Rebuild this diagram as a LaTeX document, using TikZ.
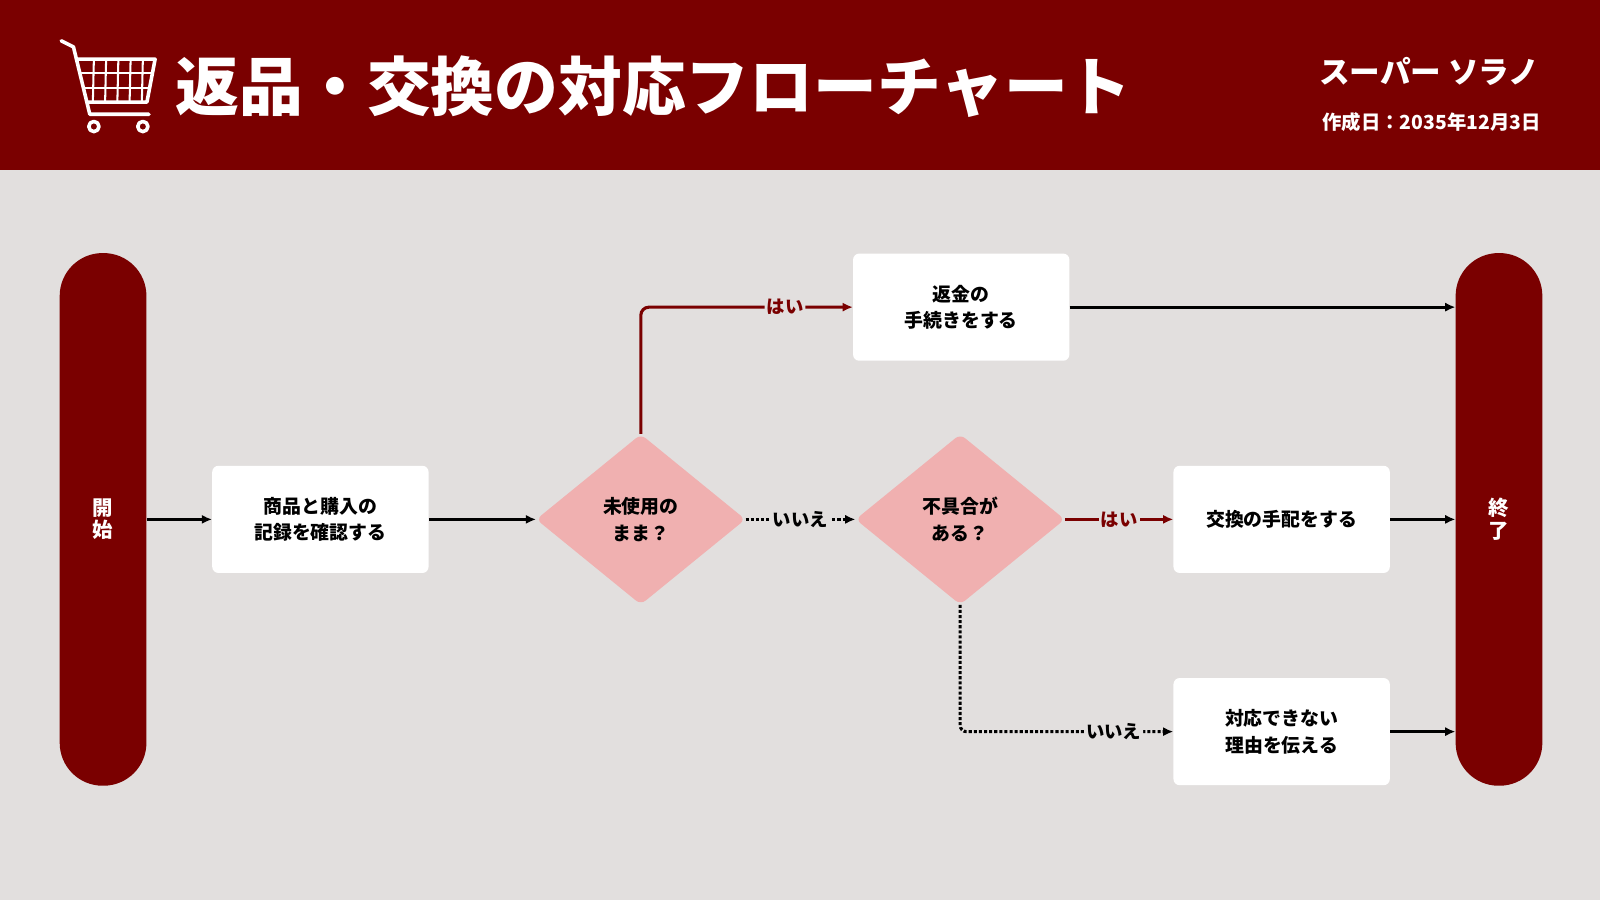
\documentclass[tikz,border=0pt]{standalone}
\usepackage{fontspec}
\setmainfont{Noto Sans CJK JP}
\usetikzlibrary{arrows.meta,shapes.geometric}
\definecolor{dred}{HTML}{7A0000}
\definecolor{bgc}{HTML}{E2DFDE}
\definecolor{pink}{HTML}{F0B0B0}
\begin{document}
\begin{tikzpicture}[x=1pt,y=-1pt,
  box/.style={draw=none,fill=white,rounded corners=6pt,minimum width=212pt,minimum height=105pt,align=center,font=\fontsize{18.5}{26}\selectfont\bfseries,inner sep=0pt},
  dia/.style={diamond,fill=pink,draw=none,rounded corners=6pt,minimum width=205pt,minimum height=167pt,align=center,font=\fontsize{18.5}{26}\selectfont\bfseries,inner sep=0pt},
  pill/.style={fill=dred,rounded corners=42pt,minimum width=85pt,minimum height=522pt,text=white,align=center,font=\fontsize{20}{22}\selectfont\bfseries,inner sep=0pt},
  arr/.style={line width=3pt,-{Latex[length=10pt,width=9pt]}},
  lab/.style={fill=bgc,inner sep=2pt,font=\fontsize{18}{20}\selectfont\bfseries}]
\useasboundingbox (0,0) rectangle (1568,882);
\fill[bgc] (0,0) rectangle (1568,882);
\fill[dred] (0,0) rectangle (1568,167);
% cart
\begin{scope}[white,line width=3.5pt,line cap=round,line join=round]
\draw (60,40) -- (72,46) -- (88,112) -- (146,112);
\draw (76,58) -- (152,58) -- (144,100) -- (86,100);
\draw[line width=2pt] (80,72) -- (150,72) (82,86) -- (147,86);
\foreach \x in {92,104,116,128,140} \draw[line width=2pt] (\x,58) -- (\x-1,100);
\draw (92,124) circle (5) (140,124) circle (5);
\end{scope}
\node[anchor=west,text=white,font=\fontsize{62.5}{64}\selectfont\bfseries,inner sep=0pt] (title) at (172,85) {返品・交換の対応フローチャート};
\node[anchor=east,text=white,font=\fontsize{30}{32}\selectfont\bfseries,inner sep=0pt] (shop) at (1509,70) {スーパー ソラノ};
\node[anchor=east,text=white,font=\fontsize{19}{20}\selectfont\bfseries,inner sep=0pt] (date) at (1510,120) {作成日：2035年12月3日};
\node[pill] (start) at (101,509) {開\\始};
\node[pill] (end) at (1469,509) {終\\了};
\node[box] (rec) at (314,509) {商品と購入の\\記録を確認する};
\node[dia] (d1) at (628,509) {未使用の\\まま？};
\node[dia] (d2) at (941,509) {不具合が\\ある？};
\node[box] (ref) at (942,301) {返金の\\手続きをする};
\node[box] (exc) at (1256,509) {交換の手配をする};
\node[box] (rea) at (1256,717) {対応できない\\理由を伝える};
\draw[arr] (start) -- (rec);
\draw[arr] (rec) -- (d1);
\draw[arr,dred,rounded corners=8pt] (d1.north) |- node[lab,pos=0.84,text=dred]{はい} (ref);
\draw[arr,dotted] (d1) -- node[lab]{いいえ} (d2);
\draw[arr,dred] (d2) -- node[lab,text=dred]{はい} (exc);
\draw[arr,dotted,rounded corners=6pt] (d2.south) |- node[lab,pos=0.86]{いいえ} (rea);
\draw[arr] (ref) -- (ref -| end.west);
\draw[arr] (exc) -- (exc -| end.west);
\draw[arr] (rea) -- (rea -| end.west);
\end{tikzpicture}
\end{document}
